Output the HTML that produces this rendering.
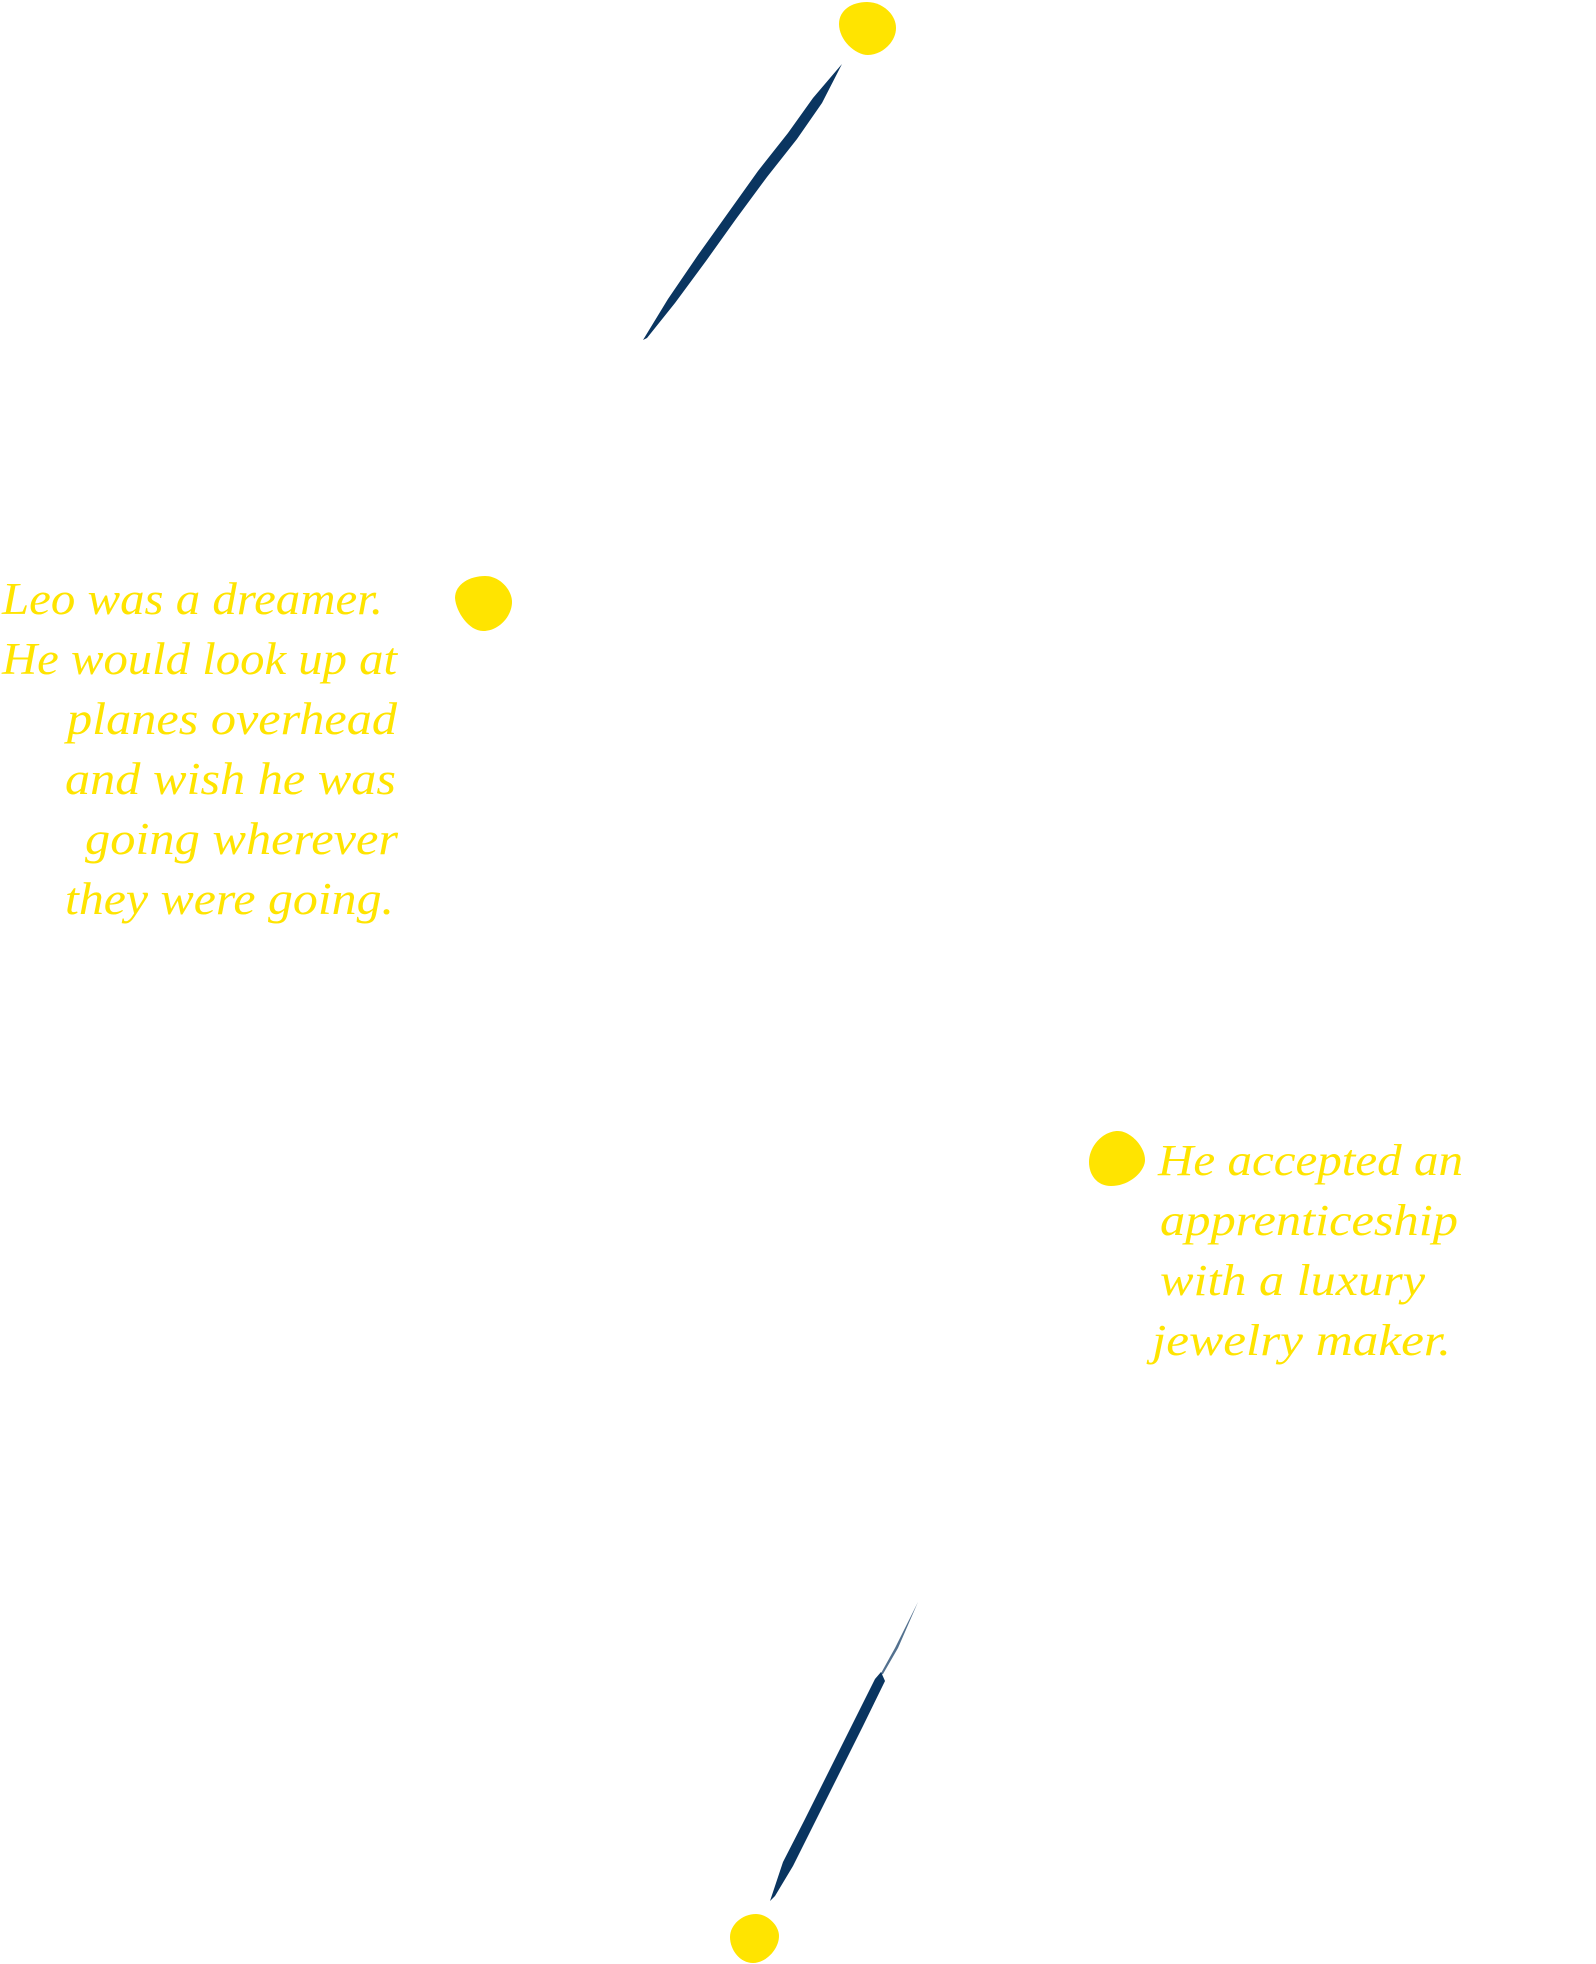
<!DOCTYPE html>
<html><head><meta charset="utf-8"><style>html,body{margin:0;padding:0;background:#fff;}svg{display:block;}</style></head>
<body>
<svg width="1596" height="1964" viewBox="0 0 1596 1964" xmlns="http://www.w3.org/2000/svg">
<g fill="#ffe400">
<path d="M867,2 C882,2 896,14 896,28 C896,42 882,55 868,55 C855,55 839,40 839,24 C839,10 852,2 867,2 Z"/>
<path d="M485,576 C500,576 512,590 512,602 C512,616 499,631 483,631 C469,631 456,612 455,598 C455,584 470,576 485,576 Z"/>
<path d="M1118,1131 C1130,1131 1145,1146 1145,1160 C1145,1171 1130,1186 1111,1186 C1097,1186 1089,1175 1089,1162 C1089,1146 1103,1131 1118,1131 Z"/>
<path d="M756,1914 C767,1914 779,1925 779,1936 C779,1949 766,1963 753,1963 C740,1963 730,1950 730,1937 C730,1925 742,1914 756,1914 Z"/>
</g>
<g fill="#0a3560">
<path d="M842,64 L836,71 L813,98 L788,133 L758,171 L728,213 L698,255 L668,299 L643,340 L647,338 L675,303 L706,261 L736,219 L767,177 L797,139 L822,103 Z"/>
<path d="M881,1672 L875,1679 L854,1721 L829,1771 L804,1821 L783,1862 L770,1901 L775,1896 L793,1866 L813,1826 L838,1776 L863,1726 L885,1681 Z"/>
<path d="M918,1602 L895,1648 L880,1675 L883,1674 L898,1648 Z" opacity="0.7"/>
</g>
<g fill="#ffe400" font-family="'Liberation Serif', serif" font-style="italic" font-size="45">
<text x="2" y="614" textLength="381" lengthAdjust="spacingAndGlyphs">Leo was a dreamer.</text>
<text x="2" y="674" textLength="395" lengthAdjust="spacingAndGlyphs">He would look up at</text>
<text x="67" y="734" textLength="330" lengthAdjust="spacingAndGlyphs">planes overhead</text>
<text x="65" y="794" textLength="331" lengthAdjust="spacingAndGlyphs">and wish he was</text>
<text x="85" y="854" textLength="313" lengthAdjust="spacingAndGlyphs">going wherever</text>
<text x="65" y="914" textLength="329" lengthAdjust="spacingAndGlyphs">they were going.</text>
</g>
<g fill="#ffe400" font-family="'Liberation Serif', serif" font-style="italic" font-size="44">
<text x="1158" y="1175" textLength="305" lengthAdjust="spacingAndGlyphs">He accepted an</text>
<text x="1160" y="1235" textLength="298" lengthAdjust="spacingAndGlyphs">apprenticeship</text>
<text x="1160" y="1295" textLength="265" lengthAdjust="spacingAndGlyphs">with a luxury</text>
<text x="1152" y="1355" textLength="299" lengthAdjust="spacingAndGlyphs">jewelry maker.</text>
</g>
</svg>
</body></html>
